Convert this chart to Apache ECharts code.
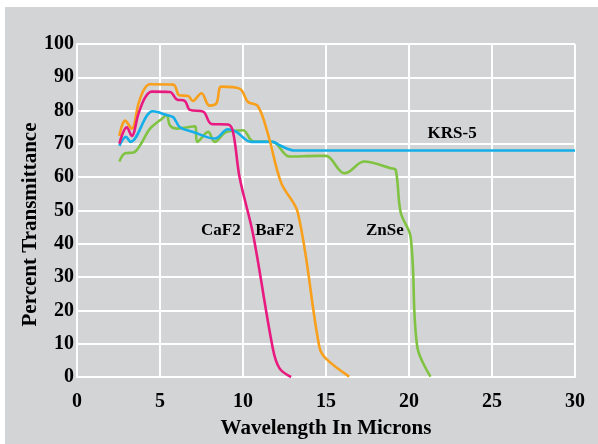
<!DOCTYPE html>
<html><head><meta charset="utf-8">
<script src="https://cdn.jsdelivr.net/npm/echarts@6/dist/echarts.min.js"></script>
<style>html,body{margin:0;padding:0;background:#fff}#c{width:598px;height:444px}</style>
</head><body><div id="c"></div>
<script>
const xTicks = [0,5,10,15,20,25,30];
const yTicks = [0,10,20,30,40,50,60,70,80,90,100];
const caf2 = [[2.55,70.1],[3.0,75],[3.3,72.4],[3.7,79],[4.1,83.9],[4.5,85.7],[5.6,85.6],[6.0,83.4],[6.5,82.9],[6.8,80.2],[7.6,79.7],[8.1,76],[9.1,75.8],[9.4,73.6],[9.8,59.8],[10.6,43],[11.8,8.5],[12.2,2.6],[12.9,0]];
const baf2 = [[2.55,72.4],[2.9,77],[3.3,74.6],[3.7,82],[4.04,86.4],[4.4,87.9],[5.8,87.8],[6.16,84.6],[6.7,84.4],[6.97,82.9],[7.5,85.2],[7.97,81.5],[8.4,82.2],[8.7,87.2],[9.8,86.6],[10.3,82.6],[10.9,81.3],[11.5,73],[12.3,58.3],[13.3,49.4],[14.6,9],[15.0,5.5],[16.4,0.1]];
const krs5 = [[2.55,69.4],[2.95,72.1],[3.23,70.6],[4.56,79.8],[5.4,78.7],[5.8,78],[6.2,75],[7.0,73.6],[8.3,71.6],[9.1,74.4],[9.6,73.6],[10.5,70.6],[11.8,70.6],[12.2,69.6],[13.1,68],[20,68],[30,68]];
const znse = [[2.55,64.7],[2.9,67.2],[3.4,67.4],[3.8,69.6],[4.4,74.6],[5.1,77.5],[5.4,78.7],[5.6,75.5],[6.0,74.6],[7.1,75.3],[7.25,70.6],[7.9,73.6],[8.3,70.6],[9.0,73.6],[10.0,74.1],[10.6,70.8],[11.8,70.6],[12.8,66.2],[14.5,66.4],[15.0,66.4],[16.1,61.2],[16.4,61.7],[17.3,64.7],[18.9,62.7],[19.2,62.2],[19.5,49.4],[20.1,42],[20.5,9],[21.3,0.1]];
const seriesNames = ['CaF2','BaF2','KRS-5','ZnSe'];
const labelPos = [[8.67,44],[11.9,44],[22.6,73.1],[18.55,44]];

const font = '"Liberation Serif", "DejaVu Serif", serif';
const chart = echarts.init(document.getElementById('c'));
const colors = ['#e8197f','#f8a01c','#14aee8','#80c342'];
const dataSets = [caf2, baf2, krs5, znse];
const series = dataSets.map((d,i)=>({
  name: seriesNames[i], type:'line', data:d, smooth:0.35, showSymbol:false,
  lineStyle:{color:colors[i], width:2.6}, z: [4,3,2,1][i]
}));
series.push({
  type:'scatter', symbolSize:0, silent:true, z:10,
  itemStyle:{opacity:1},
  data: labelPos.map((p,i)=>({value:p, name:seriesNames[i]})),
  label:{show:true, position:'inside', formatter:p=>p.name, color:'#000', opacity:1, fontFamily:font, fontWeight:'bold', fontSize:17}
});
chart.setOption({
  backgroundColor:'#ffffff',
  animation:false,
  graphic:[{type:'rect', shape:{x:5,y:7,width:600,height:444}, style:{fill:'#d3d4d6'}, z:-10}],
  grid:{left:77, right:23, top:44, bottom:60},
  xAxis:{type:'value', min:0, max:30, interval:5,
    name:'Wavelength In Microns', nameLocation:'middle', nameGap:41, nameMoveOverlap:false,
    nameTextStyle:{fontFamily:font, fontWeight:'bold', fontSize:21, color:'#000'},
    axisLine:{show:true, lineStyle:{color:'#fff', width:2}}, axisTick:{show:false},
    axisLabel:{fontFamily:font, fontWeight:'bold', fontSize:20, color:'#000', margin:15},
    splitLine:{show:true, lineStyle:{color:'#fff', width:2}}},
  yAxis:{type:'value', min:0, max:100, interval:10,
    name:'Percent Transmittance', nameLocation:'middle', nameGap:36, nameMoveOverlap:false,
    nameTextStyle:{fontFamily:font, fontWeight:'bold', fontSize:21, color:'#000', padding:[0,28,0,0]},
    axisLine:{show:true, lineStyle:{color:'#fff', width:2}}, axisTick:{show:false},
    axisLabel:{fontFamily:font, fontWeight:'bold', fontSize:20, color:'#000', margin:3},
    splitLine:{show:true, lineStyle:{color:'#fff', width:2}}},
  series: series
});
</script></body></html>
